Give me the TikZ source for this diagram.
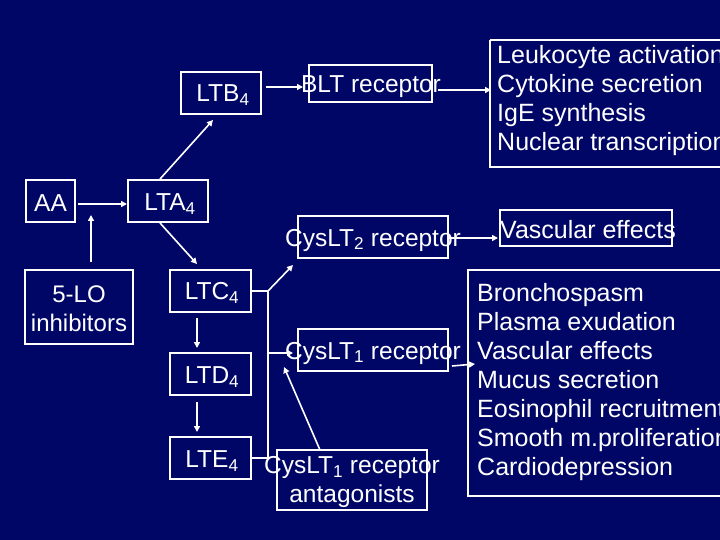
\documentclass[tikz,border=0pt]{standalone}
\usepackage{fontspec}
\setmainfont{Liberation Sans}
\usetikzlibrary{arrows.meta}
\newcommand{\sbs}[1]{\textsubscript{#1}}
\begin{document}
\begin{tikzpicture}[x=1pt,y=-1pt,
  box/.style={draw=white,line width=1.6pt,inner sep=0pt},
  lbl/.style={text=white,font=\fontsize{24.5}{28}\selectfont,inner sep=0pt},
  big/.style={text=white,font=\fontsize{25}{29}\selectfont,inner sep=0pt,align=left,anchor=north west},
  ar/.style={draw=white,line width=1.6pt,-{Triangle[length=6pt,width=6pt]}},
  ln/.style={draw=white,line width=1.6pt}]
\fill[fill={rgb,255:red,0;green,6;blue,102}] (0,0) rectangle (720,540);
\useasboundingbox (0,0) rectangle (720,540);
% boxes
\node[box,minimum width=80,minimum height=42] (ltb) at (221,93) {};
\node[lbl] at (223,95) {LTB\sbs{4}};
\node[box,minimum width=123,minimum height=37] (blt) at (370.5,83.5) {};
\node[lbl] at (371,87) {BLT receptor};
\draw[white,line width=1.6pt] (490,40) -- (722,40) (490,40) -- (490,167) -- (722,167);
\node[big] (eff1) at (497,45) {Leukocyte activation\\Cytokine secretion\\IgE synthesis\\Nuclear transcription};
\node[box,minimum width=49,minimum height=42] (aa) at (50.5,201) {};
\node[lbl] at (50.5,203) {AA};
\node[box,minimum width=80,minimum height=42] (lta) at (168,201) {};
\node[lbl] at (170,204) {LTA\sbs{4}};
\node[box,minimum width=108,minimum height=74] (lo) at (79,307) {};
\node[lbl,align=center,font=\fontsize{24}{29}\selectfont] at (79,309) {5-LO\\inhibitors};
\node[box,minimum width=81,minimum height=42] (ltc) at (210.5,291) {};
\node[lbl] at (212,293) {LTC\sbs{4}};
\node[box,minimum width=81,minimum height=42] (ltd) at (210.5,374) {};
\node[lbl] at (212,377) {LTD\sbs{4}};
\node[box,minimum width=81,minimum height=42] (lte) at (210.5,458) {};
\node[lbl] at (212,461) {LTE\sbs{4}};
\node[box,minimum width=150,minimum height=42] (cys2) at (373,237) {};
\node[lbl] at (373,240) {CysLT\sbs{2} receptor};
\node[box,minimum width=172,minimum height=36] (vasc) at (586,228) {};
\node[lbl,font=\fontsize{25}{28}\selectfont] at (588,230) {Vascular effects};
\node[box,minimum width=150,minimum height=42] (cys1) at (373,350) {};
\node[lbl] at (373,353) {CysLT\sbs{1} receptor};
\node[box,minimum width=150,minimum height=60] (ant) at (352,480) {};
\node[lbl,align=center,font=\fontsize{24.5}{29}\selectfont] at (352,482) {CysLT\sbs{1} receptor\\antagonists};
\draw[white,line width=1.6pt] (722,270) -- (468,270) -- (468,496) -- (722,496);
\node[big] (eff2) at (477,283) {Bronchospasm\\Plasma exudation\\Vascular effects\\Mucus secretion\\Eosinophil recruitment\\Smooth m.proliferation\\Cardiodepression};
% connectors
\coordinate (j1) at (268,291);
\coordinate (j2) at (268,458);
\coordinate (j3) at (268,353);
\coordinate (lotop) at (91,262);
\coordinate (lotip) at (91,215);
\coordinate (aaR) at (78,204);
\coordinate (ltaL) at (127,204);
\draw[ar] (266,87) -- (303,87);
\draw[ar] (438,90) -- (491,90);
\draw[ar] (aaR) -- (ltaL);
\draw[ar] (lotop) -- (lotip);
\draw[ar] (160,179) -- (213,120);
\draw[ar] (160,223) -- (197,264);
\draw[ln] (ltc.east) -- (j1) -- (j2) -- (lte.east);
\draw[ar] (j1) -- (293,265);
\draw[ar] (j3) -- (293,353);
\draw[ar] (320,450) -- (284,367);
\draw[ar] (448,238) -- (498,238);
\draw[ar] (452,366) -- (475,364);
\draw[ar] (197,318) -- (197,348);
\draw[ar] (197,402) -- (197,432);
\end{tikzpicture}
\end{document}
